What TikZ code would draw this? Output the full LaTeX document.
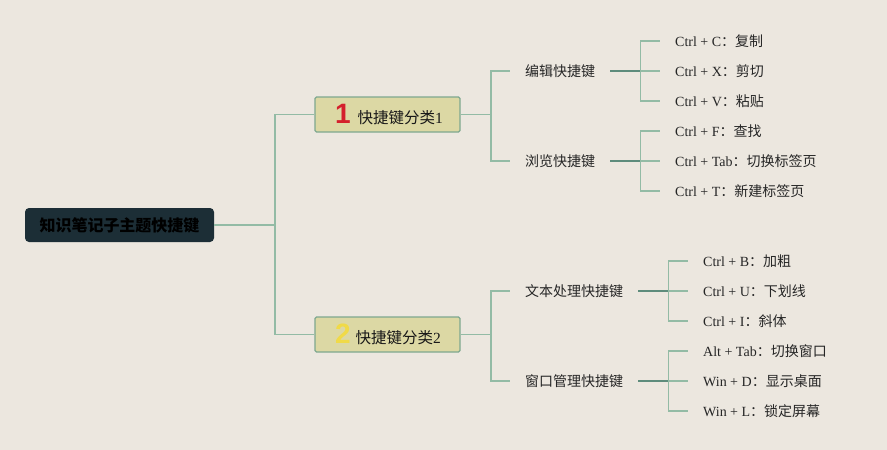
\documentclass[tikz,border=0pt]{standalone}
\usepackage{fontspec}
\setmainfont{Liberation Serif}
\newfontfamily\cjk{Noto Sans CJK SC}
\newfontfamily\numfont{Liberation Sans}
\definecolor{bgc}{HTML}{ECE7DF}
\definecolor{rootc}{HTML}{1C2E36}
\definecolor{brf}{HTML}{DCD8A4}
\definecolor{brd}{HTML}{7EA88F}
\definecolor{lnc}{HTML}{93BBA5}
\definecolor{lnd}{HTML}{5E8C7C}
\definecolor{numred}{HTML}{D4202C}
\definecolor{numyel}{HTML}{F0DA48}
\newcommand{\lf}[2]{#1{\cjk ：#2}}
\tikzset{
  rootbox/.style={fill=rootc, rounded corners=4pt, minimum width=189pt, minimum height=34pt,
    inner sep=0pt, font=\cjk\bfseries\fontsize{16}{16}\selectfont, text=black},
  branchbox/.style={draw=brd, line width=1.3pt, fill=brf, rounded corners=1.5pt,
    minimum width=145pt, minimum height=35pt, inner xsep=12.5pt, inner ysep=0pt,
    text width=120pt, align=left, font=\fontsize{15.5}{15.5}\selectfont, text=black!90},
  subbox/.style={anchor=west, inner xsep=15pt, inner ysep=2pt, font=\cjk\fontsize{14}{14}\selectfont, text=black!85},
  leafbox/.style={anchor=west, inner xsep=15pt, inner ysep=2pt, font=\fontsize{14}{14}\selectfont, text=black!85},
  conn/.style={draw=lnc, line width=1.8pt},
  connd/.style={draw=lnd, line width=1.8pt},
}
\begin{document}
\begin{tikzpicture}[x=1pt,y=-1pt]
\fill[bgc] (0,0) rectangle (887,450);
\useasboundingbox (0,0) rectangle (887,450);

\node[rootbox] (root) at (119.5,225) {知识笔记子主题快捷键};

\node[branchbox] (b1) at (387.5,114.5) {\hspace*{7.5pt}{\numfont\bfseries\fontsize{28}{28}\selectfont\color{numred}1}\hspace{7pt}{\cjk 快捷键分类}1};
\node[branchbox] (b2) at (387.5,334.5) {\hspace*{7.5pt}{\numfont\bfseries\fontsize{28}{28}\selectfont\color{numyel}2}\hspace{5pt}{\cjk 快捷键分类}2};

\node[subbox] (s1) at (510,71) {编辑快捷键};
\node[subbox] (s2) at (510,161) {浏览快捷键};
\node[subbox] (s3) at (510,291) {文本处理快捷键};
\node[subbox] (s4) at (510,381) {窗口管理快捷键};

\node[leafbox] (l1) at (660,41) {\lf{Ctrl + C}{复制}};
\node[leafbox] (l2) at (660,71) {\lf{Ctrl + X}{剪切}};
\node[leafbox] (l3) at (660,101) {\lf{Ctrl + V}{粘贴}};
\node[leafbox] (l4) at (660,131) {\lf{Ctrl + F}{查找}};
\node[leafbox] (l5) at (660,161) {\lf{Ctrl + Tab}{切换标签页}};
\node[leafbox] (l6) at (660,191) {\lf{Ctrl + T}{新建标签页}};
\node[leafbox] (l7) at (688,261) {\lf{Ctrl + B}{加粗}};
\node[leafbox] (l8) at (688,291) {\lf{Ctrl + U}{下划线}};
\node[leafbox] (l9) at (688,321) {\lf{Ctrl + I}{斜体}};
\node[leafbox] (l10) at (688,351) {\lf{Alt + Tab}{切换窗口}};
\node[leafbox] (l11) at (688,381) {\lf{Win + D}{显示桌面}};
\node[leafbox] (l12) at (688,411) {\lf{Win + L}{锁定屏幕}};

% root to branches
\draw[conn] (root.east) -- ++(61,0) coordinate (j0);
\draw[conn] (j0) |- (b1.west);
\draw[conn] (j0) |- (b2.west);
% branches to subs
\draw[conn] (b1.east) -- ++(30,0) coordinate (j1);
\draw[conn] (j1) |- (s1.west);
\draw[conn] (j1) |- (s2.west);
\draw[conn] (b2.east) -- ++(30,0) coordinate (j2);
\draw[conn] (j2) |- (s3.west);
\draw[conn] (j2) |- (s4.west);
% subs to leaves
\path (s1.east) -- ++(30,0) coordinate (k1);
\path (s2.east) -- ++(30,0) coordinate (k2);
\path (s3.east) -- ++(30,0) coordinate (k3);
\path (s4.east) -- ++(30,0) coordinate (k4);
\foreach \l in {l1,l2,l3} \draw[conn] (k1) |- (\l.west);
\foreach \l in {l4,l5,l6} \draw[conn] (k2) |- (\l.west);
\foreach \l in {l7,l8,l9} \draw[conn] (k3) |- (\l.west);
\foreach \l in {l10,l11,l12} \draw[conn] (k4) |- (\l.west);
\draw[connd] (s1.east) -- (k1);
\draw[connd] (s2.east) -- (k2);
\draw[connd] (s3.east) -- (k3);
\draw[connd] (s4.east) -- (k4);
\end{tikzpicture}
\end{document}
